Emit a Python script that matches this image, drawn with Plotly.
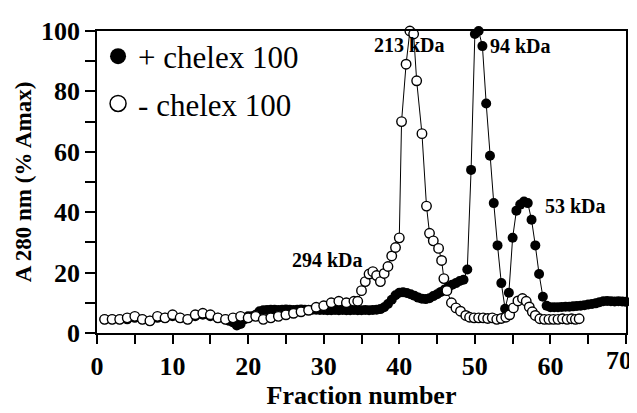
import plotly.graph_objects as go

# fraction number / absorbance (% of max)
x_open = [1, 2, 3, 4, 5, 6, 7, 8, 9, 10, 11, 12, 13, 14, 15, 16, 17, 18, 19, 20,
          21, 22, 23, 24, 25, 26, 27, 28, 29, 30, 31, 32, 33, 34,
          34.5, 35, 35.5, 36, 36.5, 37, 37.5, 38, 38.5, 39, 39.5, 40, 40.3, 40.9,
          41.4, 41.9, 42.3, 43, 43.6, 44, 44.5, 45.2, 45.6, 45.9, 46.3, 46.9, 47.5,
          48.1, 48.8, 49.3, 49.9, 50.5, 51.1, 51.7, 52.3, 52.9, 53.5, 54.1, 54.6,
          55.1, 55.7, 56.3, 56.8, 57.2, 57.6, 58, 58.6, 59.2, 59.8, 60.4, 61, 61.6,
          62.2, 62.8, 63.3, 63.8]
y_open = [4.5, 4.5, 4.5, 5, 5.5, 4.5, 4, 5.5, 5, 6, 5, 4.5, 6, 6.5, 6, 5, 4.5, 5, 5.5, 5,
          5.5, 4.5, 5, 5.5, 6, 6.5, 7, 7.5, 8.5, 9, 10, 10.5, 10, 10.5,
          10.5, 14, 17, 19.5, 20.3, 19, 17, 19.7, 22, 25.5, 28.3, 31.5, 70, 89,
          100, 99, 83.5, 66, 42, 33, 30.5, 28, 24, 18, 14, 10, 8.3,
          7.2, 5.8, 5.2, 5, 5, 5, 4.8, 5, 4.5, 4.8, 5.2, 6,
          8.3, 10.6, 11.4, 10.5, 8.6, 7, 5.8, 4.7, 4.5, 4.5, 4.5, 4.5, 4.7,
          4.5, 4.7, 4.5, 4.7]

x_filled = [1, 2, 3, 4, 5, 6, 7, 8, 9, 10, 11, 12, 13, 14, 15, 16, 17,
            17.5, 18, 18.5, 19, 19.5, 20, 20.5, 21, 21.5, 22, 22.5, 23, 23.5, 24,
            24.5, 25, 25.5, 26, 26.5, 27, 27.5, 28, 28.5, 29, 29.5, 30, 30.5, 31,
            31.5, 32, 32.5, 33, 33.5, 34, 34.5, 35, 35.5, 36, 36.5, 37, 37.5, 38,
            38.5, 39, 39.5, 40, 40.5, 41, 41.5, 42, 42.5, 43, 43.5, 44, 44.5, 45,
            45.5, 46, 46.5, 47, 47.5, 48, 48.5, 49, 49.5, 50, 50.5, 51, 51.5, 52,
            52.5, 53, 53.5, 54, 54.5, 55, 55.5, 56, 56.5, 57, 57.5, 58, 58.5, 59,
            59.5, 60, 60.5, 61, 61.5, 62, 62.5, 63, 63.5, 64, 64.5, 65, 65.5, 66,
            66.5, 67, 67.5, 68, 68.5, 69, 69.5, 70]
y_filled = [4.5, 4.5, 4.5, 4.5, 5, 4.5, 4, 5, 5, 5.5, 5, 4.5, 5.5, 6, 5.5, 5, 4.5,
            4, 3.5, 2.5, 3, 4.5, 5.5, 5.5, 6, 7.2, 7.5, 7.6, 7.7, 7.7, 7.6,
            7.7, 7.8, 7.7, 7.6, 7.7, 7.8, 7.7, 7.6, 7.7, 7.7, 7.6, 7.6, 7.5, 7.5,
            7.6, 7.5, 7.6, 7.5, 7.5, 7.6, 7.5, 7.5, 7.6, 7.5, 7.6, 7.7, 7.9, 8.5,
            9.6, 11, 12.5, 13.3, 13.5, 13.2, 12.8, 12.3, 11.7, 11.3, 11.2, 11.5, 12.2, 12.8,
            13.6, 14.4, 15.2, 16, 16.5, 17.2, 17.6, 21, 54, 99, 100, 95, 76, 58.7,
            43, 29, 16.5, 8, 13.3, 31.5, 40.5, 42.5, 43.5, 43, 37.5, 29, 19.5, 12,
            9, 8.5, 8.5, 8.5, 8.6, 8.7, 8.7, 8.8, 8.9, 9, 9.2, 9.4, 9.6, 9.8,
            10.2, 10.5, 10.6, 10.5, 10.4, 10.5, 10.4, 10.3]

peak_labels = ["213 kDa", "94 kDa", "53 kDa", "294 kDa"]
peak_x = [41.3, 56.1, 63.3, 30.5]
peak_y = [95.5, 95, 42, 24]

x_ticks = [0, 10, 20, 30, 40, 50, 60, 70]
y_ticks = [0, 20, 40, 60, 80, 100]

serif = "Liberation Serif, Times New Roman, serif"

fig = go.Figure()

fig.add_trace(go.Scatter(
    x=x_filled, y=y_filled, mode="lines+markers", showlegend=False,
    line=dict(color="black", width=1),
    marker=dict(symbol="circle", size=10, color="black"),
    cliponaxis=False))
fig.add_trace(go.Scatter(
    x=x_open, y=y_open, mode="lines+markers", showlegend=False,
    line=dict(color="black", width=1),
    marker=dict(symbol="circle", size=9.5, color="white",
                line=dict(color="black", width=1.4)),
    cliponaxis=False))

# legend entries (markers only, as in the original)
fig.add_trace(go.Scatter(
    x=[None], y=[None], mode="markers", name="+ chelex 100", legendgroup="a",
    marker=dict(size=20, color="black")))
fig.add_trace(go.Scatter(
    x=[None], y=[None], mode="markers", name="- chelex 100", legendgroup="b",
    marker=dict(size=20, color="white", line=dict(color="black", width=1.5))))

for txt, px_, py_ in zip(peak_labels, peak_x, peak_y):
    fig.add_annotation(x=px_, y=py_, text="<b>%s</b>" % txt, showarrow=False,
                       font=dict(family=serif, size=20, color="black"))

tick_font = dict(family=serif, size=26, color="black", weight="bold")

# last x label sits against the right edge of the figure
fig.add_annotation(x=x_ticks[-1], y=0, xref="x", yref="y", text=str(x_ticks[-1]),
                   showarrow=False, xanchor="right", yanchor="top",
                   xshift=8, yshift=-11, font=tick_font)

axis_common = dict(
    showline=True, linecolor="black", linewidth=1.5, mirror=True,
    ticks="outside", tickwidth=1.5, tickcolor="black",
    showgrid=False, zeroline=False, tickfont=tick_font,
)

fig.update_xaxes(range=[0, 70], tickvals=x_ticks[:-1],
                 ticklen=9,
                 minor=dict(dtick=5, ticks="outside", ticklen=9, tickwidth=1.5,
                            tickcolor="black"),
                 # leading nbsp nudges the title a little right of centre, like the original
                 title=dict(text="\u00a0" * 5 + "Fraction number", standoff=4,
                            font=dict(family=serif, size=26, color="black",
                                      weight="bold")),
                 **axis_common)
fig.update_yaxes(range=[-0.02, 100], tickvals=y_ticks,
                 ticklen=10,
                 minor=dict(dtick=10, ticks="outside", ticklen=10, tickwidth=1.5,
                            tickcolor="black"),
                 title=dict(text="A 280 nm (% Amax)", standoff=3,
                            font=dict(family=serif, size=23, color="black",
                                      weight="bold")),
                 **axis_common)

# page body keeps its default 8px margin, so the figure is sized to end at the window edge
fig.update_layout(
    width=629, height=405,
    margin=dict(l=89, r=9, t=14, b=80),
    plot_bgcolor="white", paper_bgcolor="white",
    legend=dict(x=0.002, y=1.005, xanchor="left", yanchor="top",
                bgcolor="rgba(0,0,0,0)", itemsizing="trace",
                traceorder="grouped", tracegroupgap=4,
                font=dict(family=serif, size=31, color="black")),
)

fig.write_html("out.html")
